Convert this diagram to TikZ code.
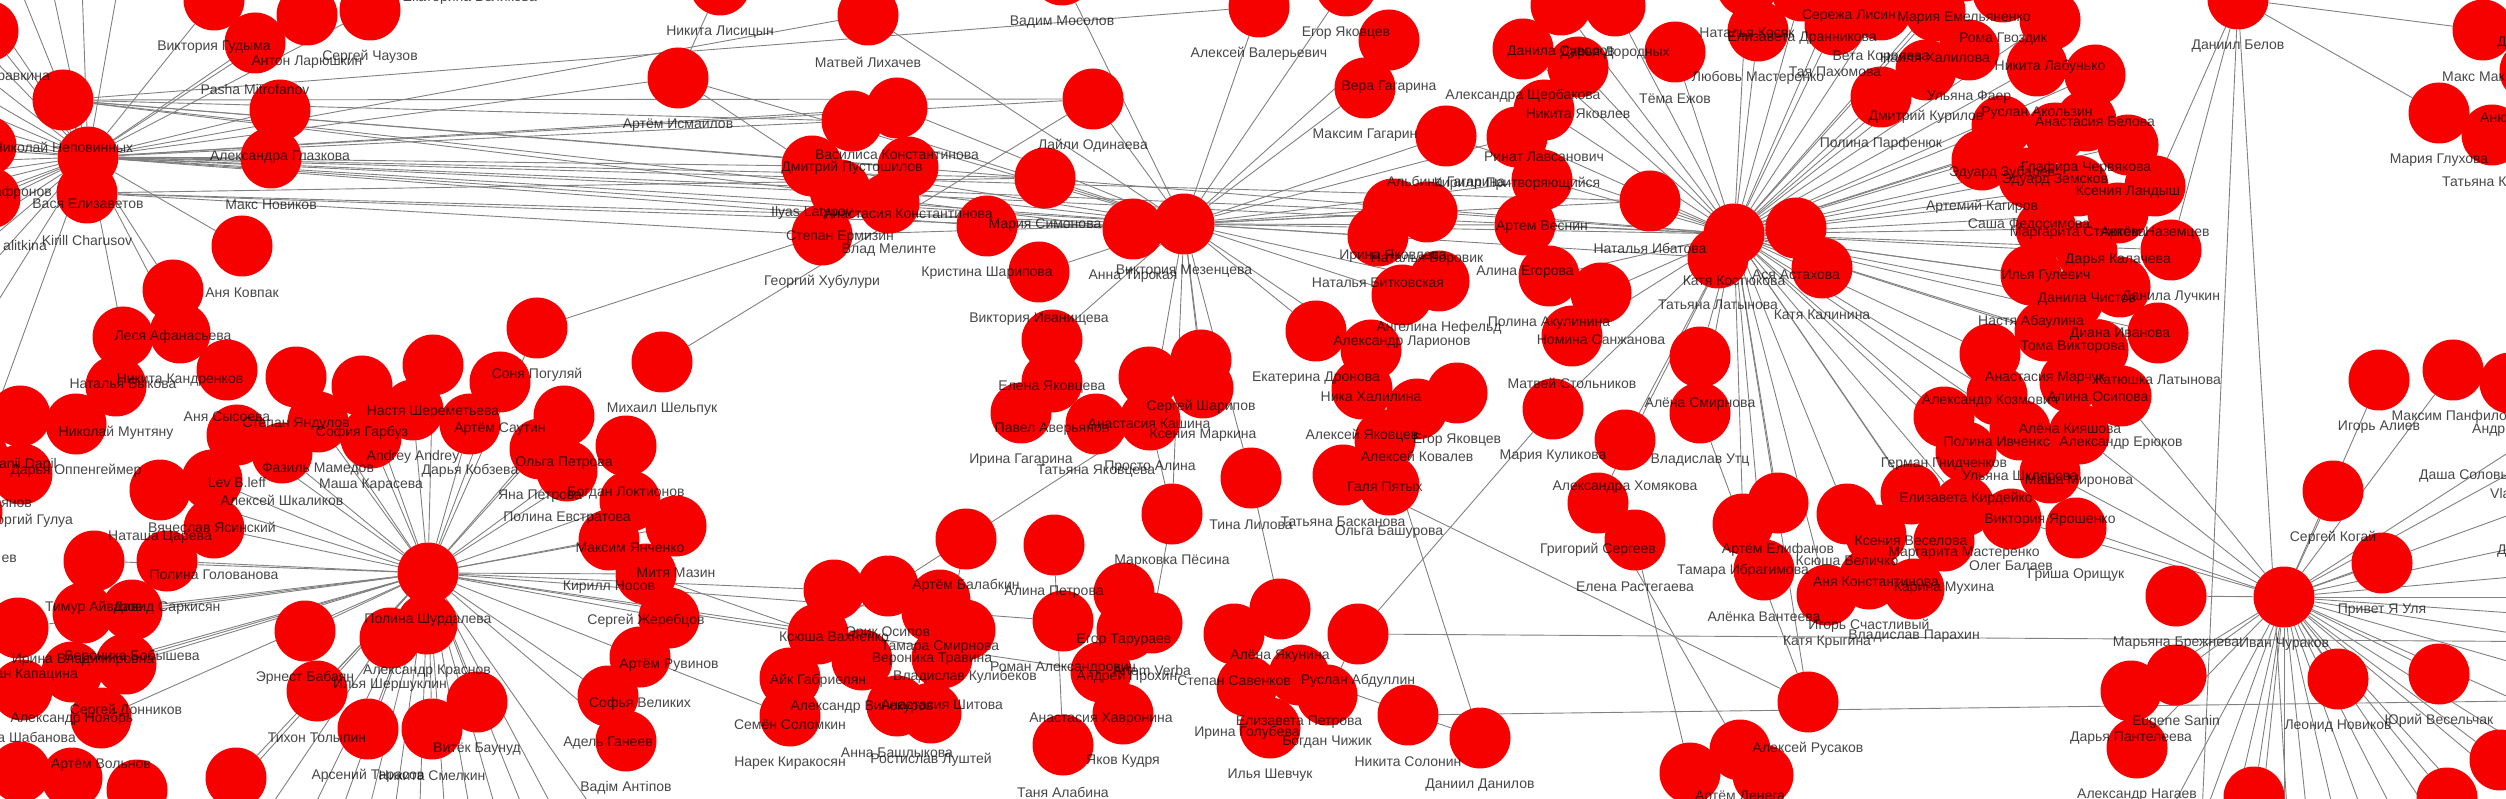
\documentclass[tikz,border=0pt]{standalone}
\usepackage{fontspec}
\setmainfont{Liberation Sans}
\usetikzlibrary{positioning}

\definecolor{dotred}{RGB}{246,0,0}
\definecolor{linkgray}{RGB}{128,128,128}

\pgfdeclarelayer{edges}
\pgfdeclarelayer{names}
\pgfsetlayers{edges,main,names}

\tikzset{
	pdot/.style = {shape = circle, fill = dotred, minimum size = 61pt, inner sep = 0pt},
	ptext/.style = {text = black, text opacity = 0.72, inner sep = 0pt,
					font = \fontsize{14}{16}\selectfont},
	link/.style = {draw = linkgray, line width = 0.9pt}
}

% one person: circle and the name 47px under it
\newcommand{\who}[4]{%
	\draw (#2,#3) node[pdot] (#1) {};
	\begin{pgfonlayer}{names}
		\draw (#2,#3+47) node[ptext] (#1-t) {#4};
	\end{pgfonlayer}}
% a name cut by the border of the picture
\newcommand{\cutname}[5]{%
	\begin{pgfonlayer}{names}
		\draw (#2,#3) node[ptext, anchor = #4] (#1) {#5};
	\end{pgfonlayer}}

\begin{document}
\begin{tikzpicture}[x = 1pt, y = -1pt]
	\useasboundingbox (0,0) rectangle (2506,799);

	% left part
	\who{nepov}{63}{100}{Николай Неповинных}
	\who{vasya}{88}{157}{Вася Елизаветов}
	\who{kirill}{87}{193}{Kirill Charusov}
	\draw (-12,31) node[pdot] (lf1) {};
	\draw (-14,146) node[pdot] (lf2) {};
	\draw (-10,198) node[pdot] (lf3) {};
	\cutname{lf1-t}{50}{78}{east}{равкина}
	\cutname{lf2-t}{52}{193}{east}{афронов}
	\cutname{lf3-t}{47}{245}{east}{alitkina}
	\who{gudyma}{214}{0}{Виктория Гудыма}
	\who{larush}{307}{15}{Антон Ларюшкин}
	\who{chauz}{370}{10}{Сергей Чаузов}
	\who{pasha}{255}{43}{Pasha Mitrofanov}
	\who{glazk}{280}{110}{Александра Глазкова}
	\who{maxnov}{271}{158}{Макс Новиков}
	\who{kovpak}{242}{246}{Аня Ковпак}
	\who{lesya}{173}{290}{Леся Афанасьева}
	\who{kandr}{180}{333}{Никита Кандренков}
	\who{bykova}{123}{337}{Наталья Быкова}
	\who{muntyan}{116}{386}{Николай Мунтяну}
	\who{oppen}{76}{424}{Дарья Оппенгеймер}
	\draw (20,416) node[pdot] (dan) {};
	\cutname{dan-t}{57}{463}{east}{anil Danil}
	\draw (-22,457) node[pdot] (vya) {};
	\cutname{vya-t}{32}{504}{east}{вянов}
	\draw (22,474) node[pdot] (gul) {};
	\cutname{gul-t}{73}{521}{east}{оргий Гулуа}
	\draw (-28,512) node[pdot] (ev) {};
	\cutname{ev-t}{17}{559}{east}{ев}
	\who{sysoeva}{227}{370}{Аня Сысоева}
	\who{yandul}{296}{377}{Степан Яндулов}
	\who{garbuz}{362}{386}{София Гарбуз}
	\who{sherem}{433}{365}{Настя Шереметьева}
	\who{andrey}{413}{410}{Andrey Andrey}
	\who{saut}{500}{382}{Артём Саутин}
	\who{mamed}{318}{422}{Фазиль Мамедов}
	\who{karas}{371}{438}{Маша Карасева}
	\who{kobz}{470}{424}{Дарья Кобзева}
	\who{opetr}{564}{416}{Ольга Петрова}
	\who{levb}{237}{435}{Lev B.leff}
	\who{shkal}{282}{453}{Алексей Шкаликов}
	\who{yasin}{212}{480}{Вячеслав Ясинский}
	\who{tsareva}{160}{490}{Наташа Царёва}
	\who{golov}{214}{528}{Полина Голованова}
	\who{aivaz}{94}{561}{Тимур Айвазов}
	\who{sarkis}{167}{561}{Давид Саркисян}
	\who{shurd}{428}{573}{Полина Шурдалева}
	\who{krasn}{427}{624}{Александр Краснов}
	\who{irvlad}{83}{613}{Ирина Владимировна}
	\who{bobysh}{132}{610}{Вероника Бобышева}
	\draw (18,628) node[pdot] (kap) {};
	\cutname{kap-t}{78}{675}{east}{ан Капацина}
	\who{babayan}{305}{631}{Эрнест Бабаян}
	\who{shersh}{390}{638}{Илья Шершуклин}
	\who{donnik}{126}{664}{Сергей Донников}
	\who{noyabr}{72}{672}{Александр Ноябрь}
	\draw (22,690) node[pdot] (shab) {};
	\cutname{shab-t}{76}{737}{east}{а Шабанова}
	\who{tolyp}{317}{691}{Тихон Толыпин}
	\who{volnov}{101}{718}{Артём Вольнов}
	\who{baunud}{477}{702}{Витёк Баунуд}
	\who{tarasov}{368}{729}{Арсений Тарасов}
	\who{smelk}{432}{729}{Никита Смелкин}
	\draw (20,772) node[pdot] (b1) {};
	\draw (72,778) node[pdot] (b2) {};
	\draw (137,790) node[pdot] (b3) {};
	\draw (236,778) node[pdot] (b5) {};

	% centre left
	\draw (462,-49) node[pdot] (ekat) {};
	\cutname{ekat-t}{537}{-2}{east}{Екатерина Великова}
	\who{soniap}{537}{328}{Соня Погуляй}
	\who{ismail}{678}{78}{Артём Исмаилов}
	\who{lisits}{720}{-15}{Никита Лисицын}
	\who{shelp}{662}{362}{Михаил Шельпук}
	\who{likh}{868}{15}{Матвей Лихачев}
	\who{vasilisa}{897}{108}{Василиса Константинова}
	\who{pustosh}{852}{121}{Дмитрий Пустошилов}
	\who{ilyas}{812}{166}{Ilyas Latypov}
	\who{ankonst}{908}{167}{Анастасия Константинова}
	\who{ermiz}{840}{190}{Степан Ермизин}
	\who{melinte}{889}{203}{Влад Мелинте}
	\who{khub}{822}{235}{Георгий Хубулури}
	\who{ypetr}{540}{449}{Яна Петрова}
	\who{lokt}{626}{446}{Богдан Локтионов}
	\who{evstr}{567}{471}{Полина Евстратова}
	\who{yanch}{630}{501}{Максим Янченко}
	\who{mazin}{676}{526}{Митя Мазин}
	\who{nosov}{609}{540}{Кирилл Носов}
	\who{zhereb}{646}{574}{Сергей Жеребцов}
	\who{ruvin}{669}{618}{Артём Рувинов}
	\who{velik}{640}{657}{Софья Великих}
	\who{ganeev}{608}{696}{Адель Ганеев}
	\who{antip}{626}{741}{Вадім Антіпов}
	\who{ksva}{834}{590}{Ксюша Вахненко}
	\who{gabr}{818}{634}{Айк Габриелян}
	\who{vinok}{862}{660}{Александр Винокуров}
	\who{solomk}{790}{678}{Семён Соломкин}
	\who{narek}{790}{716}{Нарек Киракосян}

	% centre
	\who{mosolov}{1062}{-25}{Вадим Мосолов}
	\who{valer}{1259}{7}{Алексей Валерьевич}
	\who{laili}{1093}{99}{Лайли Одинаева}
	\who{simon}{1045}{178}{Мария Симонова}
	\who{sharip}{987}{226}{Кристина Шарипова}
	\who{ivanish}{1039}{272}{Виктория Иванищева}
	\who{elyak}{1052}{340}{Елена Яковцева}
	\who{paver}{1052}{382}{Павел Аверьянов}
	\who{tirsk}{1133}{229}{Анна Тирская}
	\who{mezen}{1184}{224}{Виктория Мезенцева}
	\who{sharipov}{1201}{360}{Сергей Шарипов}
	\who{kashina}{1149}{377}{Анастасия Кашина}
	\who{markina}{1203}{388}{Ксения Маркина}
	\who{irgag}{1021}{413}{Ирина Гагарина}
	\who{tyak}{1096}{424}{Татьяна Яковцева}
	\who{prosto}{1150}{420}{Просто Алина}
	\who{pesina}{1172}{514}{Марковка Пёсина}
	\who{balab}{966}{539}{Артём Балабкин}
	\who{apetr}{1054}{545}{Алина Петрова}
	\who{osipov}{888}{586}{Эрик Осипов}
	\who{tsmirn}{940}{600}{Тамара Смирнова}
	\who{travina}{932}{612}{Вероника Травина}
	\who{tarur}{1124}{593}{Егор Тарураев}
	\who{romal}{1063}{621}{Роман Александрович}
	\who{verba}{1152}{623}{Artem Verba}
	\who{kulib}{965}{630}{Владислав Кулибеков}
	\who{prokh}{1127}{630}{Андрей Прохин}
	\who{shitova}{942}{658}{Анастасия Шитова}
	\who{khavr}{1101}{672}{Анастасия Хавронина}
	\who{bashl}{897}{706}{Анна Башлыкова}
	\who{lusht}{931}{713}{Ростислав Луштей}
	\who{kudrya}{1123}{714}{Яков Кудря}
	\who{alab}{1063}{745}{Таня Алабина}
	\who{savel}{1234}{634}{Степан Савенков}
	\who{golub}{1247}{686}{Ирина Голубева}
	\who{elpetr}{1299}{675}{Елизавета Петрова}
	\who{shevch}{1270}{728}{Илья Шевчук}
	\who{yakun}{1280}{609}{Алёна Якунина}
	\who{lilova}{1251}{478}{Тина Лилова}

	% centre right
	\who{egora}{1346}{-14}{Егор Яковцев}
	\who{veragag}{1389}{40}{Вера Гагарина}
	\who{maxgag}{1365}{88}{Максим Гагарин}
	\who{albina}{1446}{136}{Альбина Гагарина}
	\who{kirpr}{1517}{137}{Кирилл Притворяющийся}
	\who{rinat}{1544}{110}{Ринат Лавсанович}
	\who{shcherb}{1523}{49}{Александра Щербакова}
	\who{suvor}{1561}{5}{Данила Суворов}
	\who{dorod}{1615}{6}{Дарья Дородных}
	\who{nikyak}{1578}{67}{Никита Яковлев}
	\who{vesnin}{1542}{180}{Артем Веснин}
	\who{egorova}{1525}{225}{Алина Егорова}
	\who{borovik}{1427}{212}{Наталья Боровик}
	\who{iryak}{1393}{209}{Ирина Яковлева}
	\who{bitk}{1378}{236}{Наталья Битковская}
	\who{nefeld}{1439}{281}{Ангелина Нефельд}
	\who{larion}{1402}{295}{Александр Ларионов}
	\who{dronova}{1316}{331}{Екатерина Дронова}
	\who{khalil}{1371}{350}{Ника Халилина}
	\who{akulin}{1549}{276}{Полина Акулинина}
	\who{sanzh}{1601}{293}{Номина Санжанова}
	\who{stoln}{1572}{336}{Матвей Стольников}
	\who{ibra}{1650}{201}{Наталья Ибатова}
	\who{tema}{1675}{52}{Тёма Ежов}
	\who{akyak}{1362}{389}{Алексей Яковцев}
	\who{egorb}{1457}{393}{Егор Яковцев}
	\who{koval}{1417}{409}{Алексей Ковалев}
	\who{kulik}{1553}{409}{Мария Куликова}
	\who{pyat}{1385}{440}{Галя Пятых}
	\who{bask}{1343}{475}{Татьяна Басканова}
	\who{bash}{1389}{485}{Ольга Башурова}
	\who{khom}{1625}{440}{Александра Хомякова}
	\who{serg}{1598}{503}{Григорий Сергеев}
	\who{rast}{1635}{540}{Елена Растегаева}
	\who{utts}{1700}{413}{Владислав Утц}
	\who{smirn}{1700}{357}{Алёна Смирнова}
	\who{abdul}{1358}{634}{Руслан Абдуллин}
	\who{chizh}{1327}{695}{Богдан Чижик}
	\who{solon}{1408}{715}{Никита Солонин}
	\who{danil}{1480}{738}{Даниил Данилов}

	% right part
	\who{lyubov}{1758}{31}{Любовь Мастеренко}
	\who{kosyak}{1747}{-14}{Наталья Косяк}
	\who{drann}{1802}{-9}{Елизавета Дранникова}
	\who{lisin}{1849}{-31}{Сережа Лисин}
	\who{emel}{1964}{-29}{Мария Емельяненко}
	\who{gvozd}{2003}{-8}{Рома Гвоздик}
	\who{korol}{1881}{10}{Вета Королева}
	\who{khalilova}{1935}{11}{Наиля Халилова}
	\who{pakhom}{1835}{25}{Тая Пахомова}
	\who{labun}{2050}{20}{Никита Лабунько}
	\who{faer}{1969}{50}{Ульяна Фаер}
	\who{kurilov}{1926}{70}{Дмитрий Курилов}
	\who{parfen}{1881}{97}{Полина Парфенюк}
	\who{akolz}{2037}{66}{Руслан Акользин}
	\who{anbel}{2095}{75}{Анастасия Белова}
	\who{zubar}{2002}{126}{Эдуард Зубарев}
	\who{glaf}{2086}{121}{Глафира Червякова}
	\who{zemsk}{2055}{133}{Эдуард Земсков}
	\who{ksland}{2128}{145}{Ксения Ландыш}
	\who{kagir}{1982}{160}{Артемий Кагиров}
	\who{fedos}{2029}{178}{Саша Федосимова}
	\who{margst}{2078}{186}{Маргарита Стяжкова}
	\who{dkal}{2118}{213}{Дарья Калачева}
	\who{gulev}{2046}{229}{Илья Гулевич}
	\who{chist}{2087}{252}{Данила Чистов}
	\who{abaul}{2031}{275}{Настя Абаулина}
	\who{diana}{2120}{287}{Диана Иванова}
	\who{viktorova}{2073}{300}{Тома Викторова}
	\who{marchuk}{2045}{331}{Анастасия Марчук}
	\who{alos}{2098}{350}{Алина Осипова}
	\who{astakh}{1796}{228}{Ася Астахова}
	\who{kalinina}{1822}{268}{Катя Калинина}
	\who{kostyuk}{1734}{234}{Катя Костюкова}
	\who{latyn}{1718}{258}{Татьяна Латынова}
	\who{belov}{2238}{-1}{Даниил Белов}
	\draw (2483,30) node[pdot] (makar) {};
	\cutname{makar-t}{2442}{77}{west}{Макс Мака}
	\draw (2540,-4) node[pdot] (dd1) {};
	\cutname{dd1-t}{2497}{43}{west}{Д}
	\draw (2530,71) node[pdot] (anyu) {};
	\cutname{anyu-t}{2480}{118}{west}{Аню}
	\who{glukh}{2439}{113}{Мария Глухова}
	\draw (2492,135) node[pdot] (tatk) {};
	\cutname{tatk-t}{2442}{182}{west}{Татьяна К}
	\who{nazem}{2155}{186}{Артём Наземцев}
	\who{luchk}{2171}{250}{Данила Лучкин}
	\who{katlat}{2158}{333}{Катюшка Латынова}
	\who{kozm}{1990}{354}{Александр Козмович}
	\who{kiyash}{2070}{382}{Алёна Кияшова}
	\who{ivch}{1997}{395}{Полина Ивченко}
	\who{gnid}{1944}{417}{Герман Гнидченков}
	\who{shkl}{2020}{430}{Ульяна Шклярова}
	\who{mironova}{2079}{434}{Маша Миронова}
	\who{kird}{1966}{452}{Елизавета Кирдейко}
	\who{yarosh}{2050}{473}{Виктория Ярошенко}
	\who{elif}{1778}{503}{Артём Елифанов}
	\who{vesel}{1911}{494}{Ксения Веселова}
	\who{master}{1964}{506}{Маргарита Мастеренко}
	\who{velich}{1847}{514}{Ксюша Величко}
	\who{balaev}{2011}{519}{Олег Балаев}
	\who{ibrag}{1743}{524}{Тамара Ибрагимова}
	\who{orish}{2076}{528}{Гриша Орищук}
	\who{aconst}{1876}{535}{Аня Константинова}
	\who{mukhina}{1944}{541}{Карина Мухина}
	\who{vant}{1764}{570}{Алёнка Вантеева}
	\who{schast}{1869}{579}{Игорь Счастливый}
	\who{parakh}{1914}{589}{Владислав Парахин}
	\who{kryg}{1827}{595}{Катя Крыгина}
	\who{rusak}{1808}{702}{Алексей Русаков}
	\who{deneg}{1740}{750}{Артём Денега}
	\who{erukov}{2121}{396}{Александр Ерюков}
	\who{aliev}{2379}{380}{Игорь Алиев}
	\who{panf}{2453}{370}{Максим Панфилов}
	\draw (2510,383) node[pdot] (andr) {};
	\cutname{andr-t}{2472}{430}{west}{Андр}
	\draw (2545,429) node[pdot] (solov) {};
	\cutname{solov-t}{2419}{476}{west}{Даша Соловь}
	\draw (2560,446) node[pdot] (vla) {};
	\cutname{vla-t}{2490}{493}{west}{Vla}
	\draw (2545,504) node[pdot] (dd2) {};
	\cutname{dd2-t}{2497}{551}{west}{Д}
	\who{kogai}{2333}{491}{Сергей Когай}
	\who{ulya}{2382}{563}{Привет Я Уля}
	\who{brezh}{2176}{596}{Марьяна Брежнева}
	\who{churak}{2284}{597}{Иван Чураков}
	\who{sanin}{2176}{675}{Eugene Sanin}
	\who{pantel}{2131}{691}{Дарья Пантелеева}
	\who{leonov}{2338}{679}{Леонид Новиков}
	\who{vesela}{2439}{674}{Юрий Весельчак}
	\who{nagaev}{2137}{748}{Александр Нагаев}
	\draw (2500,760) node[pdot] (r1) {};
	\draw (2254,797) node[pdot] (r2) {};
	\draw (2447,798) node[pdot] (r3) {};
	\draw (1690,773) node[pdot] (r4) {};
	\draw (1763,775) node[pdot] (r5) {};

	% connectors
	\begin{pgfonlayer}{edges}
		\foreach \a [count = \i] in {110,122,132,140,147,154,160,166,172,178,184,
									  190,196,203,210,218,226,236,248,258,268,280}
			\path (vasya) ++(\a:420) coordinate (vw\i);
		\foreach \i in {1,...,22}
			\draw[link] (vasya) -- (vw\i);
		\foreach \b in {nepov,kirill,gudyma,larush,chauz,pasha,glazk,maxnov,kovpak,
						lesya,kandr,bykova,ismail,likh,mezen,simon,laili,vasilisa,
						pustosh,ilyas,kostyuk,ibra,borovik,sharip,lf1,lf2,lf3,tirsk}
			\draw[link] (vasya) -- (\b);
		\foreach \b in {mezen,laili,pustosh,tirsk,ankonst,kostyuk,valer}
			\draw[link] (nepov) -- (\b);
		\foreach \b in {mezen,simon,khub,tirsk}
			\draw[link] (kirill) -- (\b);

		\foreach \a [count = \i] in {55,62,68,74,80,86,92,98,104,110,116,124,132}
			\path (shurd) ++(\a:380) coordinate (sw\i);
		\foreach \i in {1,...,13}
			\draw[link] (shurd) -- (sw\i);
		\foreach \b in {sarkis,golov,yasin,tsareva,bobysh,irvlad,donnik,noyabr,
						volnov,babayan,tolyp,shkal,levb,mamed,karas,sherem,andrey,
						garbuz,yandul,kobz,soniap,saut,opetr,ypetr,evstr,yanch,lokt,
						nosov,mazin,zhereb,ruvin,velik,ganeev,antip,baunud,krasn,
						shersh,ksva,gabr,aivaz,kap,shab,tarasov,smelk,b5,khavr,romal}
			\draw[link] (shurd) -- (\b);

		\foreach \b in {laili,simon,tirsk,sharip,ivanish,elyak,mosolov,valer,egora,
						veragag,maxgag,albina,kirpr,vesnin,borovik,iryak,bitk,
						nefeld,larion,dronova,khalil,kostyuk,ibra,likh,vasilisa,
						pustosh,ilyas,melinte,khub,prosto,markina,lilova,pesina,
						ismail,sharipov,egorova,latyn}
			\draw[link] (mezen) -- (\b);

		\foreach \b in {lyubov,kosyak,drann,lisin,korol,pakhom,parfen,kurilov,faer,
						akolz,zubar,kagir,fedos,gulev,chist,abaul,viktorova,astakh,
						kalinina,latyn,ibra,tema,nikyak,rinat,vesnin,egorova,akulin,
						sanzh,stoln,elif,velich,vesel,ibrag,utts,smirn,vant,kryg,
						rusak,mukhina,gnid,kird,kozm,master,shkl,ivch,nazem,luchk,
						katlat,khalilova,emel,labun,suvor,dorod,shcherb,kirpr,
						albina,borovik,kulik,serg,khom,anbel,glaf,zemsk,ksland,
						margst,dkal,diana,marchuk,alos}
			\draw[link] (kostyuk) -- (\b);

		\foreach \a [count = \i] in {-20,-12,-5,0,4,9,16,24,32,40,48,56,63,70,77,
									  84,90,96,103,110,118}
			\path (churak) ++(\a:420) coordinate (cw\i);
		\foreach \i in {1,...,21}
			\draw[link] (churak) -- (cw\i);
		\foreach \b in {kogai,aliev,panf,ulya,brezh,sanin,pantel,leonov,vesela,
						nagaev,orish,mironova,yarosh,erukov,balaev,r1,r2,r3,solov,vla}
			\draw[link] (churak) -- (\b);

		% single links
		\coordinate (e1) at (2600,642);
		\coordinate (e2) at (2600,700);
		\coordinate (e3) at (2200,860);
		\coordinate (e4) at (2290,860);
		\draw[link] (abdul) -- (e1);
		\draw[link] (solon) -- (e2);
		\draw[link] (belov) -- (e3);
		\draw[link] (belov) -- (e4);
		\foreach \b in {makar,glukh,nazem,luchk}
			\draw[link] (belov) -- (\b);
		\draw[link] (bask) -- (rusak);
		\draw[link] (pyat) -- (danil);
		\draw[link] (serg) -- (deneg);
		\draw[link] (rast) -- (r4);
		\draw[link] (kulik) -- (abdul);
		\draw[link] (lilova) -- (yakun);
		\draw[link] (pesina) -- (prosto);
		\draw[link] (apetr) -- (alab);
		\draw[link] (balab) -- (lusht);
		\draw[link] (zhereb) -- (gabr);
		\draw[link] (shelp) -- (laili);
		\draw[link] (soniap) -- (khub);
		\draw[link] (ismail) -- (lisits);
		\draw[link] (gabr) -- (prosto);
		\draw[link] (velik) -- (narek);
		\draw[link] (rusak) -- (utts);
		\draw[link] (kryg) -- (parakh);
		\draw[link] (elpetr) -- (danil);
		\draw[link] (chizh) -- (abdul);
		\draw[link] (ilyas) -- (ismail);
		\draw[link] (pesina) -- (verba);
	\end{pgfonlayer}
\end{tikzpicture}
\end{document}
